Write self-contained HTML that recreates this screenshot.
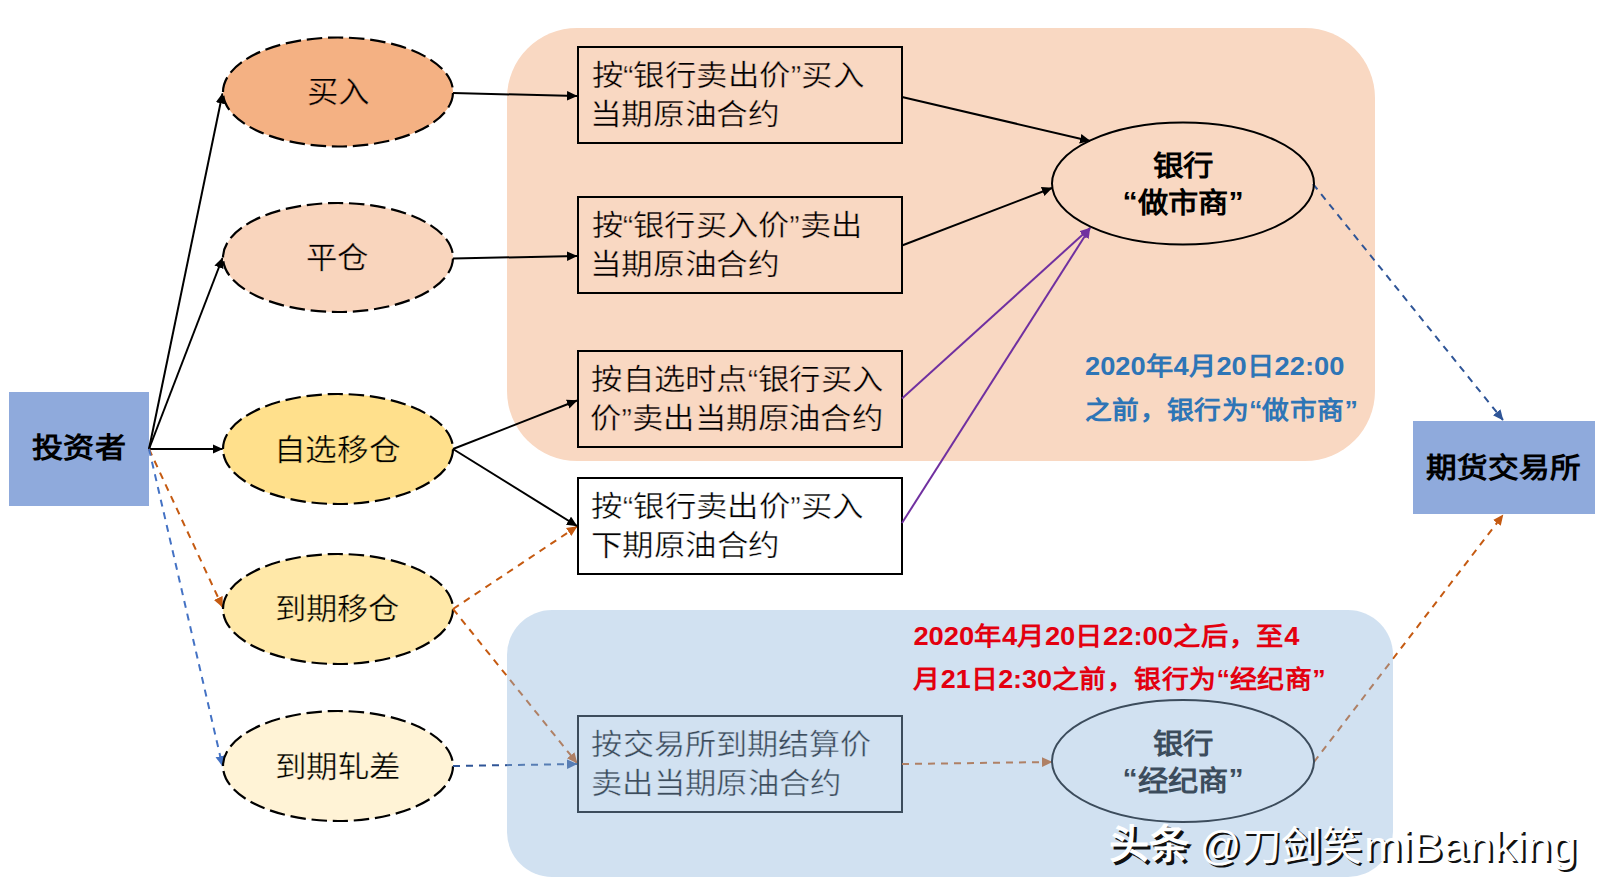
<!DOCTYPE html>
<html lang="zh-CN">
<head>
<meta charset="utf-8">
<style>
html,body{margin:0;padding:0;background:#fff;}
body{width:1604px;height:893px;overflow:hidden;position:relative;font-family:"Liberation Sans",sans-serif;}
svg{position:absolute;left:0;top:0;}
text{font-family:"Liberation Sans",sans-serif;}
</style>
</head>
<body>
<svg width="1604" height="893" viewBox="0 0 1604 893">
<defs>
<marker id="ab" markerWidth="11" markerHeight="11" refX="10" refY="5" orient="auto" markerUnits="userSpaceOnUse"><path d="M0,0.2 L10.5,5 L0,9.8 z" fill="#000"/></marker>
<marker id="ao" markerWidth="11" markerHeight="11" refX="10" refY="5" orient="auto" markerUnits="userSpaceOnUse"><path d="M0,0.2 L10.5,5 L0,9.8 z" fill="#C55A11"/></marker>
<marker id="abl" markerWidth="11" markerHeight="11" refX="10" refY="5" orient="auto" markerUnits="userSpaceOnUse"><path d="M0,0.2 L10.5,5 L0,9.8 z" fill="#4472C4"/></marker>
<marker id="adb" markerWidth="11" markerHeight="11" refX="10" refY="5" orient="auto" markerUnits="userSpaceOnUse"><path d="M0,0.2 L10.5,5 L0,9.8 z" fill="#2F5597"/></marker>
<marker id="ap" markerWidth="11" markerHeight="11" refX="10" refY="5" orient="auto" markerUnits="userSpaceOnUse"><path d="M0,0.2 L10.5,5 L0,9.8 z" fill="#7030A0"/></marker>
</defs>

<!-- orange group background -->
<rect x="507" y="28" width="868" height="433" rx="70" ry="70" fill="#F9D8C2"/>

<!-- investor -->
<rect x="9" y="392" width="140" height="114" fill="#8FAADC"/>
<text id="inv1" x="79" y="458" font-size="28.6" fill="#000" font-weight="bold" text-anchor="middle" textLength="94.5" lengthAdjust="spacingAndGlyphs">投资者</text>

<!-- left connectors -->
<g stroke-width="2" fill="none">
<line x1="149" y1="449" x2="222.5" y2="93.5" stroke="#000" marker-end="url(#ab)"/>
<line x1="149" y1="449" x2="222.5" y2="258" stroke="#000" marker-end="url(#ab)"/>
<line x1="149" y1="449" x2="222.5" y2="449" stroke="#000" marker-end="url(#ab)"/>
<line x1="149" y1="449" x2="222.5" y2="607" stroke="#C55A11" stroke-width="2" stroke-dasharray="7 6" marker-end="url(#ao)"/>
<line x1="149" y1="449" x2="222.5" y2="766" stroke="#4472C4" stroke-width="2" stroke-dasharray="7 6" marker-end="url(#abl)"/>
</g>

<!-- ellipses -->
<g stroke="#000" stroke-width="2.2" stroke-dasharray="15.4 5.79">
<path d="M223.0,92.0 A115.0,54.5 0 0 1 453.0,92.0 A115.0,54.5 0 0 1 223.0,92.0 Z" fill="#F4B183"/>
<path d="M223.0,257.5 A115.0,54.5 0 0 1 453.0,257.5 A115.0,54.5 0 0 1 223.0,257.5 Z" fill="#F9D5BD"/>
<path d="M223.0,449.0 A115.0,55.0 0 0 1 453.0,449.0 A115.0,55.0 0 0 1 223.0,449.0 Z" fill="#FFE08C"/>
<path d="M223.0,609.0 A115.0,55.0 0 0 1 453.0,609.0 A115.0,55.0 0 0 1 223.0,609.0 Z" fill="#FFE8A8"/>
<path d="M223.0,766.0 A115.0,55.0 0 0 1 453.0,766.0 A115.0,55.0 0 0 1 223.0,766.0 Z" fill="#FFF3D6"/>
</g>
<text id="el0" x="338.45" y="101.8" font-size="30" fill="#000" text-anchor="middle" textLength="62.8" lengthAdjust="spacingAndGlyphs" stroke="#F4B183" stroke-width="0.4">买入</text>
<text id="el1" x="337.5" y="267.6" font-size="30" fill="#000" text-anchor="middle" textLength="62.9" lengthAdjust="spacingAndGlyphs" stroke="#F9D5BD" stroke-width="0.4">平仓</text>
<text id="el2" x="337" y="459.6" font-size="30" fill="#000" text-anchor="middle" textLength="126.9" lengthAdjust="spacingAndGlyphs" stroke="#FFE08C" stroke-width="0.4">自选移仓</text>
<text id="el3" x="337.2" y="618.6" font-size="30" fill="#000" text-anchor="middle" textLength="125" lengthAdjust="spacingAndGlyphs" stroke="#FFE8A8" stroke-width="0.4">到期移仓</text>
<text id="el4" x="337.7" y="776.6" font-size="30" fill="#000" text-anchor="middle" textLength="126" lengthAdjust="spacingAndGlyphs" stroke="#FFF3D6" stroke-width="0.4">到期轧差</text>

<!-- middle connectors -->
<g stroke-width="2" fill="none">
<line x1="453" y1="93" x2="577" y2="96" stroke="#000" marker-end="url(#ab)"/>
<line x1="453" y1="258.5" x2="577" y2="256" stroke="#000" marker-end="url(#ab)"/>
<line x1="453" y1="449" x2="577" y2="400.5" stroke="#000" marker-end="url(#ab)"/>
<line x1="453" y1="609" x2="577" y2="526.5" stroke="#C55A11" stroke-width="2" stroke-dasharray="7 6" marker-end="url(#ao)"/>
<line x1="453" y1="449" x2="577" y2="526" stroke="#000" marker-end="url(#ab)"/>
<line x1="453" y1="609" x2="577" y2="763" stroke="#C55A11" stroke-width="2" stroke-dasharray="7 6" marker-end="url(#ao)"/>
<line x1="453" y1="766" x2="577" y2="764" stroke="#2F5597" stroke-width="2" stroke-dasharray="7 6" marker-end="url(#adb)"/>
</g>

<!-- boxes -->
<g stroke="#000" stroke-width="2">
<rect x="578" y="47" width="324" height="96" fill="none"/>
<rect x="578" y="197" width="324" height="96" fill="none"/>
<rect x="578" y="351" width="324" height="96" fill="none"/>
<rect x="578" y="478" width="324" height="96" fill="#fff"/>
<rect x="578" y="716" width="324" height="96" fill="none"/>
</g>
<text id="bx0a" x="591.6" y="86" font-size="29" fill="#000" textLength="272.4" lengthAdjust="spacingAndGlyphs" stroke="#F9D8C2" stroke-width="0.4">按“银行卖出价”买入</text>
<text id="bx0b" x="589.6" y="125.3" font-size="29" fill="#000" textLength="190" lengthAdjust="spacingAndGlyphs" stroke="#F9D8C2" stroke-width="0.4">当期原油合约</text>
<text id="bx1a" x="591.6" y="236" font-size="29" fill="#000" textLength="270.6" lengthAdjust="spacingAndGlyphs" stroke="#F9D8C2" stroke-width="0.4">按“银行买入价”卖出</text>
<text id="bx1b" x="589.6" y="275.3" font-size="29" fill="#000" textLength="190" lengthAdjust="spacingAndGlyphs" stroke="#F9D8C2" stroke-width="0.4">当期原油合约</text>
<text id="bx2a" x="591.4" y="390" font-size="29" fill="#000" textLength="291.7" lengthAdjust="spacingAndGlyphs" stroke="#F9D8C2" stroke-width="0.4">按自选时点“银行买入</text>
<text id="bx2b" x="590.2" y="429.3" font-size="29" fill="#000" textLength="292.9" lengthAdjust="spacingAndGlyphs" stroke="#F9D8C2" stroke-width="0.4">价”卖出当期原油合约</text>
<text id="bx3a" x="591.4" y="517" font-size="29" fill="#000" textLength="272.1" lengthAdjust="spacingAndGlyphs" stroke="#fff" stroke-width="0.4">按“银行卖出价”买入</text>
<text id="bx3b" x="590.8" y="556.3" font-size="29" fill="#000" textLength="188.9" lengthAdjust="spacingAndGlyphs" stroke="#fff" stroke-width="0.4">下期原油合约</text>
<text id="bx4a" x="591.4" y="755" font-size="29" fill="#000" textLength="280.1" lengthAdjust="spacingAndGlyphs" stroke="#fff" stroke-width="0.4">按交易所到期结算价</text>
<text id="bx4b" x="591" y="794.3" font-size="29" fill="#000" textLength="250.8" lengthAdjust="spacingAndGlyphs" stroke="#fff" stroke-width="0.4">卖出当期原油合约</text>

<!-- right connectors -->
<g stroke-width="2" fill="none">
<line x1="902" y1="97" x2="1090" y2="141" stroke="#000" marker-end="url(#ab)"/>
<line x1="902" y1="245.5" x2="1052" y2="188" stroke="#000" marker-end="url(#ab)"/>
<line x1="902" y1="398.5" x2="1090" y2="228" stroke="#7030A0" marker-end="url(#ap)"/>
<line x1="902" y1="523" x2="1090" y2="228" stroke="#7030A0" marker-end="url(#ap)"/>
<line x1="1313" y1="184" x2="1503" y2="420" stroke="#2F5597" stroke-width="2" stroke-dasharray="7 6" marker-end="url(#adb)"/>
<line x1="902" y1="764" x2="1052" y2="762" stroke="#C55A11" stroke-width="2" stroke-dasharray="7 6" marker-end="url(#ao)"/>
<line x1="1314" y1="762" x2="1503" y2="515" stroke="#C55A11" stroke-width="2" stroke-dasharray="7 6" marker-end="url(#ao)"/>
</g>

<!-- bank ellipses -->
<ellipse cx="1183" cy="183.5" rx="131" ry="61" fill="none" stroke="#000" stroke-width="2"/>
<ellipse cx="1183" cy="761" rx="131" ry="61" fill="none" stroke="#000" stroke-width="2"/>
<text id="bk0a" x="1183" y="176.0" font-size="28" fill="#000" font-weight="bold" text-anchor="middle" textLength="61" lengthAdjust="spacingAndGlyphs">银行</text>
<text id="bk0b" x="1183" y="213.0" font-size="28" fill="#000" font-weight="bold" text-anchor="middle" textLength="121" lengthAdjust="spacingAndGlyphs"><tspan dy="-2.5">“</tspan><tspan dy="2.5">做市商</tspan><tspan dy="-2.5">”</tspan></text>
<text id="bk1a" x="1183" y="753.5" font-size="28" fill="#000" font-weight="bold" text-anchor="middle" textLength="61" lengthAdjust="spacingAndGlyphs">银行</text>
<text id="bk1b" x="1183" y="790.5" font-size="28" fill="#000" font-weight="bold" text-anchor="middle" textLength="121" lengthAdjust="spacingAndGlyphs"><tspan dy="-2.5">“</tspan><tspan dy="2.5">经纪商</tspan><tspan dy="-2.5">”</tspan></text>

<!-- exchange -->
<rect x="1413" y="421" width="182" height="93" fill="#8FAADC"/>
<text id="ex1" x="1503.5" y="477.5" font-size="28.5" fill="#000" font-weight="bold" text-anchor="middle" textLength="156" lengthAdjust="spacingAndGlyphs">期货交易所</text>

<!-- blue text -->
<text id="bl1" x="1085" y="375.4" font-size="25.5" fill="#2E75B6" font-weight="bold" textLength="259.3" lengthAdjust="spacingAndGlyphs">2020年4月20日22:00</text>
<text id="bl2" x="1085" y="419" font-size="25.5" fill="#2E75B6" font-weight="bold" textLength="272.8" lengthAdjust="spacingAndGlyphs">之前，银行为“做市商”</text>

<!-- blue overlay -->
<rect x="507" y="610" width="886" height="267" rx="45" ry="45" fill="#91B7DE" fill-opacity="0.415"/>

<!-- red text -->
<text id="rd1" x="913.4" y="645" font-size="25.5" fill="#E3000F" font-weight="bold" textLength="386" lengthAdjust="spacingAndGlyphs">2020年4月20日22:00之后，至4</text>
<text id="rd2" x="913.4" y="687.5" font-size="25.5" fill="#E3000F" font-weight="bold" textLength="412.2" lengthAdjust="spacingAndGlyphs">月21日2:30之前，银行为“经纪商”</text>

<!-- watermark -->
<text id="wm_s1" x="1111.5" y="860.5" font-size="40" fill="#111" font-weight="bold">头条</text>
<text id="wm_s2" x="1202.5" y="862.0" font-size="40" fill="#111" textLength="162" lengthAdjust="spacingAndGlyphs">@刀剑笑</text>
<text id="wm_s3" x="1366.5" y="863.0" font-size="42" fill="#111" textLength="213" lengthAdjust="spacingAndGlyphs">miBanking</text>
<text id="wm_w1" x="1109" y="858" font-size="40" fill="#fff" font-weight="bold">头条</text>
<text id="wm_w2" x="1200" y="859.5" font-size="40" fill="#fff" textLength="162" lengthAdjust="spacingAndGlyphs">@刀剑笑</text>
<text id="wm_w3" x="1364" y="860.5" font-size="42" fill="#fff" textLength="213" lengthAdjust="spacingAndGlyphs">miBanking</text>
</svg>
</body>
</html>
